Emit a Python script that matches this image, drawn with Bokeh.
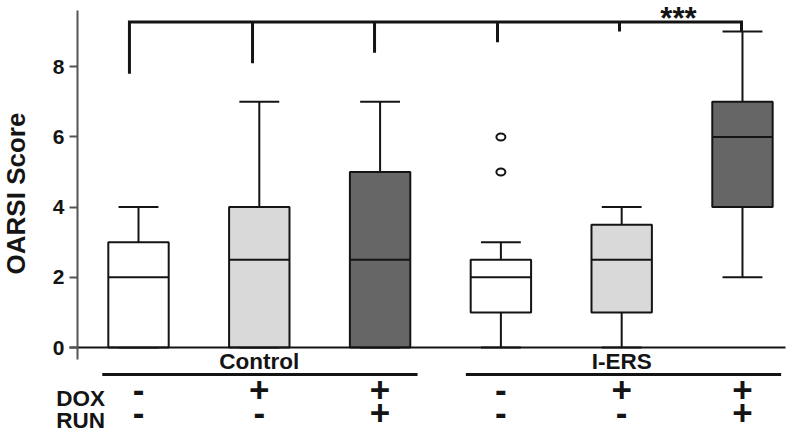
import numpy as np
from math import pi
from bokeh.plotting import figure
from bokeh.models import LinearAxis, FixedTicker
from bokeh.core.properties import value
from bokeh.embed import file_html
from bokeh.resources import INLINE

# ---------------- data ----------------
positions = [1, 2, 3, 4, 5, 6]
groups = ["Control", "I-ERS"]
group_centers = [2, 5]
group_starts = [0.70, 3.71]
group_ends = [3.31, 6.32]
dox = ["-", "+", "+", "-", "+", "+"]
run = ["-", "-", "+", "-", "-", "+"]
whisker_low = [0, 0, 0, 0, 0, 2]
q1 = [0, 0, 0, 1, 1, 4]
median = [2, 2.5, 2.5, 2, 2.5, 6]
q3 = [3, 4, 5, 2.5, 3.5, 7]
whisker_high = [4, 7, 7, 3, 4, 9]
fills = ["#ffffff", "#d9d9d9", "#666666", "#ffffff", "#d9d9d9", "#666666"]
outlier_x = [4, 4]
outlier_y = [5, 6]
bracket_x = [0.925, 1.944, 2.954, 3.972, 4.982, 5.992]
bracket_drop = [7.8, 8.1, 8.4, 8.7, 9.0, 9.0]
bracket_level = 9.27
sig_text = "***"
y_ticks = [0, 2, 4, 6, 8]
y_label = "OARSI Score"
row_names = ["DOX", "RUN"]

FONT = "Liberation Sans"
INK = "#141414"
AXIS = "#555555"
BOX_W = 0.5
CAP_W = 0.33

p = figure(width=788, height=433, x_range=(-0.1424, 6.381), y_range=(-2.450, 9.886),
           output_backend="svg", toolbar_location=None,
           x_axis_location=None, y_axis_location=None,
           min_border_left=0, min_border_right=0, min_border_top=0, min_border_bottom=0)
p.xgrid.visible = False
p.ygrid.visible = False
p.outline_line_color = None
p.background_fill_color = "white"
p.border_fill_color = "white"

# y axis (drawn at the left edge of the data area)
yax = LinearAxis(fixed_location=0.495, bounds=(-0.34, 9.6), ticker=FixedTicker(ticks=y_ticks))
yax.major_tick_out = 8
yax.major_tick_in = 0
yax.minor_tick_line_color = None
yax.axis_line_width = 2
yax.axis_line_color = AXIS
yax.major_tick_line_color = AXIS
yax.major_tick_line_width = 2
yax.major_label_text_font = FONT
yax.major_label_text_font_style = "bold"
yax.major_label_text_font_size = "21px"
yax.major_label_text_color = INK
yax.major_label_standoff = 5
p.add_layout(yax, "left")

# x axis: baseline at y = 0, no ticks
xax = LinearAxis(fixed_location=0, bounds=(0.43, 6.36), ticker=FixedTicker(ticks=[]))
xax.axis_line_width = 2
xax.axis_line_color = INK
xax.major_tick_line_color = None
xax.minor_tick_line_color = None
xax.major_label_text_font_size = "0px"
p.add_layout(xax, "below")

pos = np.array(positions, dtype=float)

# whiskers
p.segment(x0=pos, x1=pos, y0=q3, y1=whisker_high, line_color=INK, line_width=2)
p.segment(x0=pos, x1=pos, y0=q1, y1=whisker_low, line_color=INK, line_width=2)
p.segment(x0=pos - CAP_W / 2, x1=pos + CAP_W / 2, y0=whisker_high, y1=whisker_high,
          line_color=INK, line_width=2)
p.segment(x0=pos - CAP_W / 2, x1=pos + CAP_W / 2, y0=whisker_low, y1=whisker_low,
          line_color=INK, line_width=2)

# boxes
p.vbar(x=pos, bottom=q1, top=q3, width=BOX_W, fill_color=fills, line_color=INK, line_width=2)
p.segment(x0=pos - BOX_W / 2, x1=pos + BOX_W / 2, y0=median, y1=median,
          line_color=INK, line_width=2)

# outliers
p.ellipse(x=outlier_x, y=outlier_y, width=9, height=7, width_units="screen",
          height_units="screen", fill_color="white", line_color=INK, line_width=2)

# significance bracket
p.line(x=[bracket_x[0], bracket_x[0], bracket_x[-1], bracket_x[-1]],
       y=[bracket_drop[0], bracket_level, bracket_level, bracket_drop[-1]],
       line_color=INK, line_width=3, line_join="miter")
p.segment(x0=bracket_x[1:-1], x1=bracket_x[1:-1], y0=[bracket_level] * 4, y1=bracket_drop[1:-1],
          line_color=INK, line_width=3)
p.text(x=[5.47], y=[9.373], text=[sig_text], text_font=value(FONT), text_font_style="bold",
       text_font_size="31px", text_align="center", text_baseline="middle", text_color=INK)

# group labels and lines
p.text(x=group_centers, y=[-0.40] * 2, text=groups, text_font=value(FONT), text_font_style="bold",
       text_font_size="22.5px", text_align="center", text_baseline="middle", text_color=INK)
p.segment(x0=group_starts, x1=group_ends, y0=[-0.77] * 2, y1=[-0.77] * 2,
          line_color=INK, line_width=3)

# treatment rows
p.text(x=pos, y=[-1.20] * 6, text=dox, text_font=value(FONT), text_font_style="bold",
       text_font_size="35px", text_align="center", text_baseline="middle", text_color=INK)
p.text(x=pos, y=[-1.87] * 6, text=run, text_font=value(FONT), text_font_style="bold",
       text_font_size="35px", text_align="center", text_baseline="middle", text_color=INK)
p.text(x=[0.319, 0.319], y=[-1.453, -2.074], text=row_names, text_font=value(FONT),
       text_font_style="bold", text_font_size="22.5px", text_align="left",
       text_baseline="middle", text_color=INK)

# y-axis title
p.text(x=[-0.018], y=[4.387], text=[y_label], angle=pi / 2, text_font=value(FONT),
       text_font_style="bold", text_font_size="26px", text_align="center",
       text_baseline="middle", text_color=INK)

open("out.html", "w").write(file_html(p, INLINE))
